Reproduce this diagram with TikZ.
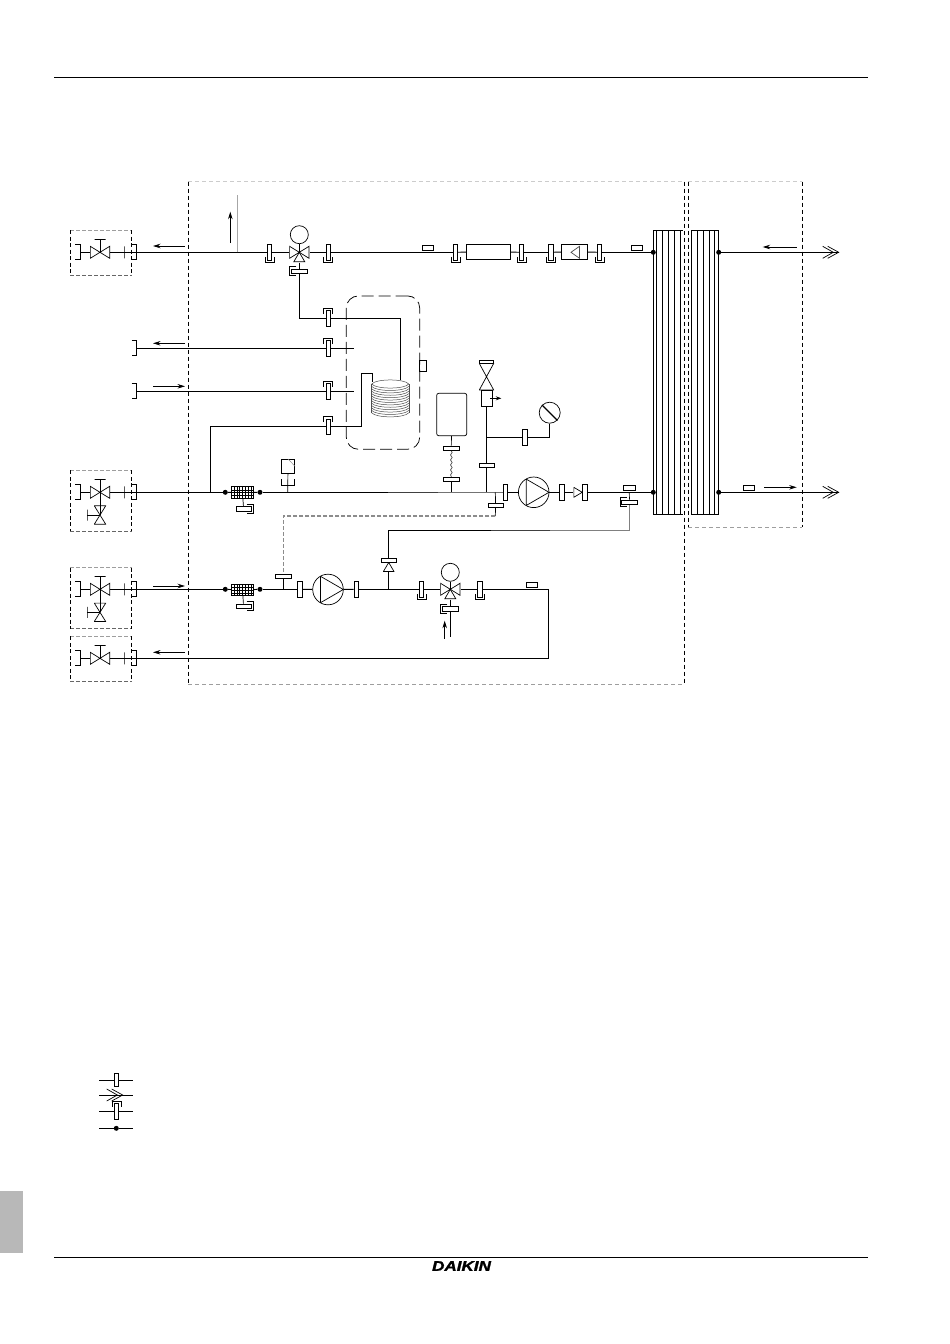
\documentclass[tikz,border=0pt]{standalone}
\usepackage{fontspec}
\newfontfamily\logofont[BoldItalicFeatures={FakeBold=1.6}]{Liberation Sans}
\usetikzlibrary{arrows.meta,decorations.pathmorphing}

\newcommand{\cupdown}[1]{\draw[thinl] ([shift={(-4.5,4.5)}]#1.center) -- ++(0,5.5) -- ++(9,0) -- ++(0,-5.5);}
\newcommand{\cupup}[1]{\draw[thinl] ([shift={(-4.5,-4.5)}]#1.center) -- ++(0,-5.5) -- ++(9,0) -- ++(0,5.5);}
\newcommand{\cupleft}[1]{\draw[thinl] ([shift={(-3,-4.5)}]#1.center) -- ++(-6.5,0) -- ++(0,9) -- ++(6.5,0);}
\newcommand{\cupright}[1]{\draw[thinl] ([shift={(3,-4.5)}]#1.center) -- ++(6.5,0) -- ++(0,9) -- ++(-6.5,0);}
\newcommand{\portmark}[1]{\draw[pipe] ([shift={(-5,-7.5)}]#1) -- ++(5,0) -- ++(0,15) -- ++(-5,0);}
\newcommand{\chevrons}[1]{\draw[thinl] ([shift={(-16,-6)}]#1) -- ++(10.6,6) -- ++(-10.6,6) ([shift={(-11,-6)}]#1) -- ++(11,6) -- ++(-11,6);}

\begin{document}
\begin{tikzpicture}[x=1pt,y=-1pt]
%%%%%%%%%%%%%%%%%%%%%%%%%%%%%%%%%%%%%%%%%%%%%%%%%%%%%%%%
% STYLE
\tikzset{
  pipe/.style={line width=0.95pt},
  thinl/.style={line width=0.7pt},
  link/.style={->,>={Stealth[length=7.5pt,width=4.5pt]},line width=0.8pt},
  linksmall/.style={->,>={Stealth[length=5.5pt,width=4pt]},line width=0.8pt},
  fitv/.style={rectangle,draw,thinl,fill=white,minimum width=4.5pt,minimum height=15.5pt,inner sep=0pt},
  fith/.style={rectangle,draw,thinl,fill=white,minimum width=15.5pt,minimum height=4.5pt,inner sep=0pt},
  tag/.style={rectangle,draw,thinl,fill=white,minimum width=11.4pt,minimum height=5.4pt,inner sep=0pt},
  tickmark/.style={rectangle,draw,thinl,minimum width=0pt,minimum height=12pt,inner sep=0pt},
  barv/.style={rectangle,draw,thinl,minimum width=0pt,minimum height=11pt,inner sep=0pt},
  barh/.style={rectangle,draw,thinl,minimum width=11pt,minimum height=0pt,inner sep=0pt},
  dot/.style={circle,fill=black,minimum size=5pt,inner sep=0pt},
  motor/.style={circle,draw,thinl,fill=white,minimum size=18pt,inner sep=0pt},
  valve/.style={rectangle,minimum width=20pt,minimum height=13pt,inner sep=0pt,path picture={
    \begin{scope}[shift={(path picture bounding box.center)}]
    \draw[thinl] (-9.7,-6) -- (9.7,6) -- (9.7,-6) -- (-9.7,6) -- cycle;
    \end{scope}}},
  valvev/.style={rectangle,minimum width=12pt,minimum height=19pt,inner sep=0pt,path picture={
    \begin{scope}[shift={(path picture bounding box.center)}]
    \draw[thinl] (-5.7,-9.2) -- (5.7,9.2) -- (-5.7,9.2) -- (5.7,-9.2) -- cycle;
    \end{scope}}},
  valvetall/.style={rectangle,minimum width=15pt,minimum height=27pt,inner sep=0pt,path picture={
    \begin{scope}[shift={(path picture bounding box.center)}]
    \draw[thinl] (-7.2,-13.3) -- (7.2,13.3) -- (-7.2,13.3) -- (7.2,-13.3) -- cycle;
    \end{scope}}},
  valvetri/.style={rectangle,minimum width=20pt,minimum height=20pt,inner sep=0pt,path picture={
    \begin{scope}[shift={(path picture bounding box.center)}]
    \draw[thinl] (-9.7,-6) -- (9.7,6) -- (9.7,-6) -- (-9.7,6) -- cycle;
    \draw[thinl] (0,0) -- (5.5,9.5) -- (-5.5,9.5) -- cycle;
    \end{scope}}},
  checkr/.style={rectangle,minimum width=9pt,minimum height=10.6pt,inner sep=0pt,path picture={
    \begin{scope}[shift={(path picture bounding box.center)}]
    \draw[thinl] (-4.2,-5) -- (4.2,0) -- (-4.2,5) -- cycle;
    \end{scope}}},
  checkd/.style={rectangle,minimum width=11.4pt,minimum height=9.6pt,inner sep=0pt,path picture={
    \begin{scope}[shift={(path picture bounding box.center)}]
    \draw[thinl] (0,-4.5) -- (5.3,4.5) -- (-5.3,4.5) -- cycle;
    \end{scope}}},
  pump/.style={circle,draw,thinl,fill=white,minimum size=30.6pt,inner sep=0pt,path picture={
    \begin{scope}[shift={(path picture bounding box.center)}]
    \draw[thinl] (-7.5,-13.2) -- (15.3,0) -- (-7.5,13.2) -- cycle;
    \end{scope}}},
  strainer/.style={rectangle,draw,line width=1pt,fill=white,minimum width=22.4pt,minimum height=11.3pt,inner sep=0pt,path picture={
    \begin{scope}[shift={(path picture bounding box.center)}]
    \foreach \gx in {-8.4,-5.6,...,8.5} {\draw[line width=0.55pt] (\gx,-6) -- (\gx,6);}
    \foreach \gy in {-2.8,0,2.8} {\draw[line width=0.55pt] (-12,\gy) -- (12,\gy);}
    \end{scope}}},
  pipebox/.style={rectangle,draw,thinl,fill=white,minimum height=15pt,inner sep=0pt},
  tank/.style={rectangle,draw,line width=0.75pt,rounded corners=12pt,dash pattern=on 12pt off 5pt,minimum width=73.4pt,minimum height=153.3pt,inner sep=0pt},
  frameside/.style={line width=0.8pt,dash pattern=on 4pt off 3pt},
  frametop/.style={line width=1pt,dash pattern=on 4pt off 3pt,black!20},
  framebot/.style={line width=0.9pt,dash pattern=on 4pt off 3pt,black!38},
  sideline/.style={line width=0.8pt,dash pattern=on 4pt off 2.5pt},
  ctrl/.style={line width=1.1pt,dash pattern=on 4pt off 2pt,black!45},
  coilline/.style={line width=0.5pt,black!70}
}
\useasboundingbox (0,0) rectangle (950,1344);

%%%%%%%%%%%%%%%%%%%%%%%%%%%%%%%%%%%%%%%%%%%%%%%%%%%%%%%%
% PAGE
\draw[line width=0.8pt] (54,77) -- (868,77);
\draw[line width=0.8pt] (54,1257.5) -- (868,1257.5);
\fill[black!28] (0,1191) rectangle (23,1253);
\node[font=\logofont\bfseries\itshape\fontsize{14}{14}\selectfont,xscale=1.22,inner sep=0pt] (LOGO) at (461.5,1266) {DAIKIN};

%%%%%%%%%%%%%%%%%%%%%%%%%%%%%%%%%%%%%%%%%%%%%%%%%%%%%%%%
% FRAMES
\draw[frametop] (188.3,181.7) -- (684.3,181.7);
\draw[framebot] (188.3,684.7) -- (684.3,684.7);
\draw[frameside] (188.3,181.7) -- (188.3,684.7);
\draw[frameside] (684.3,181.7) -- (684.3,684.7);
\draw[frametop] (688.3,181.7) -- (802.3,181.7);
\draw[framebot] (688.3,527.3) -- (802.3,527.3);
\draw[frameside] (688.3,181.7) -- (688.3,527.3);
\draw[frameside] (802.3,181.7) -- (802.3,527.3);
\foreach \ya/\yb in {230/275.3,470.3/531.3,567.7/628.7,636.3/681.3} {
  \draw[framebot,line width=0.7pt,dash pattern=on 3.5pt off 2.5pt] (70.3,\ya) -- (131.7,\ya);
  \draw[framebot,line width=0.7pt,dash pattern=on 3.5pt off 2.5pt,black!60] (70.3,\yb) -- (131.7,\yb);
  \draw[sideline] (70.3,\ya) -- (70.3,\yb);
  \draw[sideline] (131.7,\ya) -- (131.7,\yb);
}

%%%%%%%%%%%%%%%%%%%%%%%%%%%%%%%%%%%%%%%%%%%%%%%%%%%%%%%%
% HEAT EXCHANGER
\draw[pipe] (682.7,230.3) -- (653.3,230.3) -- (653.3,514.3) -- (682.7,514.3);
\draw[pipe] (691,230.3) -- (718.7,230.3) -- (718.7,514.3) -- (691,514.3);
\foreach \hx in {656.7,662.3,668.3,674.3,680.3,691,697.3,703.3,709,714.7} {
  \draw[thinl] (\hx,230.3) -- (\hx,514.3);
}

%%%%%%%%%%%%%%%%%%%%%%%%%%%%%%%%%%%%%%%%%%%%%%%%%%%%%%%%
% NODES
% box 1
\coordinate (P01) at (80,252.3);
\node[valve] (V01) at (100,252.3) {};
\node[barh] (V01t) at (100,239.3) {};
\node[tickmark] (K01) at (124,252.3) {};
\coordinate (P02) at (136.7,252.3);
% top line
\coordinate (J01) at (237.7,252.3);
\coordinate (J01u) at (237.7,195.3);
\node[fitv] (F01) at (269.5,252.3) {};
\node[valvetri] (V02) at (299.3,252.3) {};
\node[motor] (M01) at (299.3,234.7) {};
\node[fith] (T01) at (299.3,271.3) {};
\node[fitv] (F02) at (328.3,252.3) {};
\node[tag] (S01) at (428,247.7) {};
\node[fitv] (F03) at (455.5,252.3) {};
\node[pipebox,minimum width=44.4pt] (R01) at (488.5,251.8) {};
\node[fitv] (F04) at (521.5,252.3) {};
\node[fitv] (F05) at (550.8,252.3) {};
\node[pipebox,minimum width=26.4pt] (R02) at (574.5,251.8) {};
\node[fitv] (F06) at (599.5,252.3) {};
\node[tag] (S02) at (637,247.7) {};
\node[dot] (D01) at (653.3,252.3) {};
\node[dot] (D02) at (718.7,252.3) {};
\coordinate (E01) at (838.7,252.3);
% tank
\node[tank] (TK1) at (383,372.6) {};
\node[rectangle,draw,thinl,minimum width=7pt,minimum height=11.4pt,inner sep=0pt] (S03) at (423.2,366) {};
\coordinate (C01) at (400.7,380);
\coordinate (C02) at (372.7,382);
\coordinate (J02) at (361.7,373);
\node[fitv] (F07) at (328.3,318.3) {};
\coordinate (P03) at (136.7,348.3);
\node[fitv] (F08) at (328.3,348.3) {};
\coordinate (E02) at (354,348.3);
\coordinate (P04) at (136.7,391.3);
\node[fitv] (F09) at (328.3,391.3) {};
\coordinate (E03) at (354,391.3);
\node[fitv] (F10) at (328.3,426.7) {};
% vessel, air valve, gauge
\node[rectangle,draw,thinl,rounded corners=2pt,minimum width=30pt,minimum height=42.4pt,inner sep=0pt] (VS1) at (451.7,414.5) {};
\node[fith] (T02) at (451.3,448.3) {};
\node[fith] (T03) at (451.3,479.5) {};
\node[rectangle,draw,thinl,minimum width=14.4pt,minimum height=3pt,inner sep=0pt] (AV1) at (486.5,361.8) {};
\node[valvetall] (AV2) at (486.5,376.7) {};
\node[rectangle,draw,thinl,minimum width=11.4pt,minimum height=16.3pt,inner sep=0pt] (AV3) at (486.7,398.2) {};
\coordinate (AV4a) at (490,398.3);
\coordinate (AV4b) at (501.3,398.3);
\node[fith] (T04) at (486.7,465.3) {};
\coordinate (J03) at (486.7,437.3);
\node[fitv] (F11) at (525,437.3) {};
\node[circle,draw,thinl,minimum size=21pt,inner sep=0pt] (G01) at (549.7,412.7) {};
% box 2
\coordinate (P05) at (80,492.3);
\node[valve] (V03) at (100,492.3) {};
\node[barh] (V03t) at (100,479.3) {};
\node[valvev] (V04) at (100,515) {};
\node[barv] (V04t) at (87,515) {};
\node[tickmark] (K02) at (124,492.3) {};
\coordinate (P06) at (136.7,492.3);
% middle line
\coordinate (J04) at (210.3,492.3);
\node[dot] (D03) at (225.3,492.3) {};
\node[strainer] (ST1) at (242.5,492.6) {};
\node[dot] (D04) at (260,492.3) {};
\node[fith] (T05) at (243.6,509) {};
\coordinate (J05) at (287.7,492.3);
\node[rectangle,draw,thinl,minimum width=13.4pt,minimum height=14pt,inner sep=0pt] (PS1) at (288,466.3) {};
\coordinate (J06) at (388,492.3);
\coordinate (J07) at (438,492.3);
\coordinate (J08) at (451.3,492.3);
\coordinate (J09) at (486.7,492.3);
\coordinate (J10) at (495.3,492.3);
\node[fith] (T06) at (495.6,505.5) {};
\coordinate (J11) at (495.3,516);
\node[fitv] (F12) at (505.5,492.3) {};
\node[pump] (PU1) at (533.7,492.3) {};
\node[fitv] (F13) at (562,492.3) {};
\node[checkr] (CH1) at (578,492.3) {};
\node[fitv] (F14) at (584.8,492.3) {};
\node[tag] (S04) at (629.3,488) {};
\coordinate (J12) at (629.3,492.3);
\node[fith] (T07) at (629.5,502.3) {};
\node[dot] (D05) at (653.3,492.3) {};
\node[dot] (D06) at (718.7,492.3) {};
\coordinate (E04) at (838.7,492.3);
\node[tag] (S05) at (749,487.7) {};
% box 3
\coordinate (P07) at (80,589.3);
\node[valve] (V05) at (100,589.3) {};
\node[barh] (V05t) at (100,576.3) {};
\node[valvev] (V06) at (100,612.3) {};
\node[barv] (V06t) at (87,612.3) {};
\node[tickmark] (K03) at (124,589.3) {};
\coordinate (P08) at (136.7,589.3);
% lower line
\node[dot] (D07) at (225.3,589.3) {};
\node[strainer] (ST2) at (242.5,590) {};
\node[dot] (D08) at (260,589.3) {};
\node[fith] (T08) at (243.6,606.3) {};
\coordinate (J13) at (283.3,589.3);
\node[fith] (T09) at (283.3,576.3) {};
\coordinate (J14) at (283.3,516);
\node[fitv] (F15) at (299.8,589.3) {};
\node[pump] (PU2) at (328,589.5) {};
\node[fitv] (F16) at (356.3,589.3) {};
\coordinate (J15) at (388.7,589.3);
\node[checkd] (CH2) at (388.7,567) {};
\node[fith] (T10) at (388.7,560.3) {};
\coordinate (J16) at (388.7,530.7);
\coordinate (J17) at (491,530.7);
\coordinate (J18) at (550,530.7);
\coordinate (J19) at (629.5,530.7);
\node[fitv] (F17) at (421.5,589.3) {};
\node[valvetri] (V07) at (450.3,589.3) {};
\node[motor] (M02) at (450.3,572.3) {};
\node[fith] (T11) at (450.3,608.7) {};
\coordinate (J20) at (450.3,636.7);
\coordinate (A0a) at (444.7,638.7);
\coordinate (A0b) at (444.7,620.7);
\node[fitv] (F18) at (480,589.3) {};
\node[tag] (S06) at (531.7,584.8) {};
\coordinate (J21) at (548.7,589.3);
\coordinate (J22) at (548.7,658.3);
% box 4
\coordinate (P09) at (80,658.3);
\node[valve] (V08) at (100,658.3) {};
\node[barh] (V08t) at (100,645.3) {};
\node[tickmark] (K04) at (124,658.3) {};
\coordinate (P10) at (136.7,658.3);
% legend
\coordinate (L1a) at (99,1080.3);
\coordinate (L1b) at (133.3,1080.3);
\node[fitv,minimum height=13pt] (L1f) at (116.5,1080.3) {};
\coordinate (L2a) at (99,1095);
\coordinate (L2b) at (133.3,1095);
\coordinate (L2c) at (122.7,1095);
\coordinate (L3a) at (99,1111.3);
\coordinate (L3b) at (133.3,1111.3);
\node[fitv] (L3f) at (116.5,1111.3) {};
\coordinate (L4a) at (99,1128.3);
\coordinate (L4b) at (133.3,1128.3);
\node[dot] (L4d) at (116.3,1128.3) {};

%%%%%%%%%%%%%%%%%%%%%%%%%%%%%%%%%%%%%%%%%%%%%%%%%%%%%%%%
% LINKS
% top line
\draw[pipe] (P01) -- (V01);
\draw[thinl] (V01.center) -- (V01t);
\draw[pipe] (V01) -- (K01);
\draw[pipe] (K01) -- (P02);
\draw[pipe] (P02) -- (F01);
\draw[line width=1.2pt,black!35] (J01) -- (J01u);
\draw[pipe] (F01) -- (V02);
\draw[thinl] (V02.center) -- (M01);
\draw[pipe] (V02) -- (F02);
\draw[pipe] (V02) -- (T01);
\draw[pipe] (F02) -- (F03);
\draw[pipe] (F03) -- (R01);
\draw[pipe] (R01) -- (F04);
\draw[pipe] (F04) -- (F05);
\draw[pipe] (F05) -- (R02);
\draw[pipe] (R02) -- (F06);
\draw[pipe] (F06) -- (D01);
\draw[pipe] (D02) -- (E01);
% tank lines
\draw[pipe] (T01) |- (F07);
\draw[pipe] (F07) -| (C01);
\draw[pipe] (P03) -- (F08);
\draw[pipe] (F08) -- (E02);
\draw[pipe] (P04) -- (F09);
\draw[pipe] (F09) -- (E03);
\draw[pipe] (F10) -| (J02) -| (C02);
\draw[pipe] (F10) -| (J04);
% vessel, air valve, gauge
\draw[thinl] (VS1) -- (T02);
\draw[thinl,black!70,decorate,decoration={snake,amplitude=0.8pt,segment length=5pt}] (T02) -- (T03);
\draw[pipe] (T03) -- (J08);
\draw[thinl] (AV1) -- (AV2);
\draw[pipe] (AV3) -- (T04);
\draw[pipe] (T04) -- (J09);
\draw[pipe] (J03) -- (F11);
\draw[pipe] (F11) -| (G01);
\draw[line width=1.1pt] (G01.135) -- (G01.-45);
\draw[linksmall] (AV4a) -- (AV4b);
\draw[line width=0.5pt,black!45] (PS1.north) -- (PS1.east);
% middle line
\draw[pipe] (P05) -- (V03);
\draw[thinl] (V03.center) -- (V03t);
\draw[thinl] (V03.center) -- (V04.center);
\draw[thinl] (V04.center) -- (V04t);
\draw[pipe] (V03) -- (K02);
\draw[pipe] (K02) -- (P06);
\draw[pipe] (P06) -- (D03);
\draw[pipe] (D03) -- (ST1);
\draw[pipe] (ST1) -- (D04);
\draw[thinl] (ST1) -- (T05);
\draw[pipe] (D04) -- (J06);
\draw[pipe,black!75] (J06) -- (J07);
\draw[pipe,black!55] (J07) -- (F12);
\draw[thinl] (PS1) -- (J05);
\draw[thinl] (J10) -- (T06);
\draw[thinl] (T06) -- (J11);
\draw[ctrl] (J11) -- (J14) -- (T09);
\draw[pipe] (F12) -- (PU1);
\draw[pipe] (PU1) -- (F13);
\draw[pipe] (F13) -- (CH1);
\draw[pipe] (F14) -- (D05);
\draw[pipe] (D06) -- (E04);
\draw[thinl] (J12) -- (T07);
\draw[pipe,black!50] (T07) -- (J19) -- (J18);
\draw[pipe,black!75] (J18) -- (J17);
\draw[pipe] (J17) -- (J16) -- (T10);
\draw[thinl] (T10) -- (CH2);
\draw[pipe] (CH2) -- (J15);
% lower line
\draw[pipe] (P07) -- (V05);
\draw[thinl] (V05.center) -- (V05t);
\draw[thinl] (V05.center) -- (V06.center);
\draw[thinl] (V06.center) -- (V06t);
\draw[pipe] (V05) -- (K03);
\draw[pipe] (K03) -- (P08);
\draw[pipe] (P08) -- (D07);
\draw[pipe] (D07) -- (ST2);
\draw[pipe] (ST2) -- (D08);
\draw[thinl] (ST2) -- (T08);
\draw[pipe] (D08) -- (F15);
\draw[thinl] (T09) -- (J13);
\draw[pipe] (F15) -- (PU2);
\draw[pipe] (PU2) -- (F16);
\draw[pipe] (F16) -- (F17);
\draw[pipe] (F17) -- (V07);
\draw[thinl] (V07.center) -- (M02);
\draw[pipe] (V07) -- (F18);
\draw[pipe] (V07) -- (T11);
\draw[pipe] (T11) -- (J20);
\draw[pipe] (F18) -- (J21) -- (J22) -- (P10);
\draw[link] (A0a) -- (A0b);
% box 4
\draw[pipe] (P09) -- (V08);
\draw[thinl] (V08.center) -- (V08t);
\draw[pipe] (V08) -- (K04);
\draw[pipe] (K04) -- (P10);
% legend
\draw[pipe] (L1a) -- (L1f);
\draw[pipe] (L1f) -- (L1b);
\draw[pipe] (L2a) -- (L2b);
\draw[pipe] (L3a) -- (L3f);
\draw[pipe] (L3f) -- (L3b);
\draw[pipe] (L4a) -- (L4d);
\draw[pipe] (L4d) -- (L4b);

%%%%%%%%%%%%%%%%%%%%%%%%%%%%%%%%%%%%%%%%%%%%%%%%%%%%%%%%
% FLOW ARROWS
\foreach \n/\xa/\ya/\xb/\yb in {
  1/185/246/153/246, 2/230.3/243/230.3/211.7, 3/185/343.3/153/343.3,
  4/153/386.3/185/386.3, 5/153/586/185/586, 6/185/652.3/153/652.3,
  7/796.7/247/762.7/247, 8/764/487.3/796.7/487.3} {
  \coordinate (A\n a) at (\xa,\ya);
  \coordinate (A\n b) at (\xb,\yb);
  \draw[link] (A\n a) -- (A\n b);
}

%%%%%%%%%%%%%%%%%%%%%%%%%%%%%%%%%%%%%%%%%%%%%%%%%%%%%%%%
% DETAILS
% ports
\foreach \p in {P01,P02,P03,P04,P05,P06,P07,P08,P09,P10} {\portmark{\p}}
% cups
\foreach \f in {F01,F02,F03,F04,F05,F06,F17,F18} {\cupdown{\f}}
\foreach \f in {F07,F08,F09,F10,L3f} {\cupup{\f}}
\foreach \f in {T01,T07,T11} {\cupleft{\f}}
\foreach \f in {T05,T08} {\cupright{\f}}
% switch cup
\draw[thinl] ([shift={(-6.7,13)}]PS1.center) -- ++(0,5.7) -- ++(13.4,0) -- ++(0,-5.7);
% triangle in the box
\draw[thinl,black!70] ([shift={(-3.5,0.5)}]R02.center) -- ++(8.5,-6) -- ++(0,12) -- cycle;
% coil
\foreach \cy in {384,386.4,...,413} {
  \draw[coilline] (371.7,\cy) .. controls (376,\cy+5.4) and (404.5,\cy+5.4) .. (408.8,\cy);
}
\draw[coilline] (371.7,384) .. controls (376,378.6) and (404.5,378.6) .. (408.8,384);
\foreach \ci in {371.7,408.8} {\draw[coilline] (\ci,384) -- (\ci,413);}
% chevrons
\chevrons{E01}
\chevrons{E04}
\chevrons{L2c}
\end{tikzpicture}
\end{document}
